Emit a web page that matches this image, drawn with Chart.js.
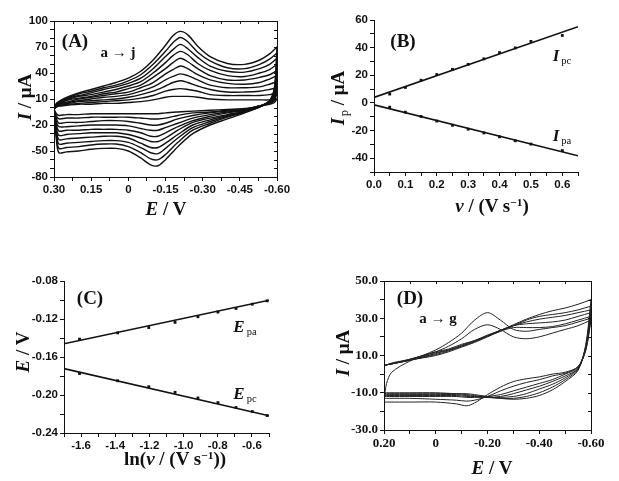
<!DOCTYPE html>
<html>
<head>
<meta charset="utf-8">
<script src="https://cdn.jsdelivr.net/npm/chart.js@4.4.1/dist/chart.umd.min.js"></script>
<style>
  body { margin: 0; background: #fff; }
  #page { position: relative; width: 619px; height: 481px; overflow: hidden; }
  canvas { position: absolute; left: 0; top: 0; }
  .lbl { position: absolute; font-family: "Liberation Serif", "Times New Roman", serif; font-weight: bold;
         color: #111; white-space: nowrap; line-height: 1; transform: translate(-50%, -50%); }
  .rot { transform: translate(-50%, -50%) rotate(-90deg); }
  .lbl sub { font-size: 62%; font-weight: normal; vertical-align: -0.3em; margin-left: 2px; }
  .lbl sup { font-size: 60%; vertical-align: 0.5em; }
</style>
</head>
<body>
<div id="page">
  <canvas id="cA" width="619" height="481"></canvas>
  <canvas id="cB" width="619" height="481"></canvas>
  <canvas id="cC" width="619" height="481"></canvas>
  <canvas id="cD" width="619" height="481"></canvas>

  <div class="lbl rot" style="left:24px;top:97px;font-size:19px"><i>I</i> / μA</div>
  <div class="lbl" style="left:166px;top:208px;font-size:19px"><i>E</i> / V</div>
  <div class="lbl" style="left:75px;top:40px;font-size:19px">(A)</div>
  <div class="lbl" style="left:118px;top:52px;font-size:15px">a → j</div>

  <div class="lbl rot" style="left:339px;top:98px;font-size:19px"><i>I</i><sub>p</sub> / μA</div>
  <div class="lbl" style="left:492px;top:205px;font-size:19px"><i>ν</i> / (V s<sup>−1</sup>)</div>
  <div class="lbl" style="left:403px;top:40px;font-size:19px">(B)</div>
  <div class="lbl" style="left:562px;top:57px;font-size:17px"><i>I</i><sub>pc</sub></div>
  <div class="lbl" style="left:562px;top:137px;font-size:17px"><i>I</i><sub>pa</sub></div>

  <div class="lbl rot" style="left:22px;top:352px;font-size:19px"><i>E</i> / V</div>
  <div class="lbl" style="left:175px;top:458px;font-size:19px">ln(<i>ν</i> / (V s<sup>−1</sup>))</div>
  <div class="lbl" style="left:90px;top:297px;font-size:19px">(C)</div>
  <div class="lbl" style="left:245px;top:328px;font-size:17px"><i>E</i><sub>pa</sub></div>
  <div class="lbl" style="left:245px;top:395px;font-size:17px"><i>E</i><sub>pc</sub></div>

  <div class="lbl rot" style="left:342px;top:353px;font-size:19px"><i>I</i> / μA</div>
  <div class="lbl" style="left:492px;top:467px;font-size:19px"><i>E</i> / V</div>
  <div class="lbl" style="left:410px;top:297px;font-size:19px">(D)</div>
  <div class="lbl" style="left:438px;top:318px;font-size:15px">a → g</div>
</div>
<script>
// ---------- (A) CVs at increasing scan rate, curves a -> j
const aUpE = [0.30, 0.29, 0.27, 0.24, 0.20, 0.15, 0.10, 0.05, 0.00, -0.05, -0.10, -0.15, -0.18, -0.21, -0.24, -0.28, -0.33, -0.40, -0.47, -0.53, -0.57, -0.60];
const aLowE = [-0.60, -0.59, -0.57, -0.53, -0.47, -0.40, -0.33, -0.26, -0.20, -0.15, -0.12, -0.09, -0.05, 0.00, 0.05, 0.10, 0.15, 0.20, 0.25, 0.28, 0.29, 0.30];
const aUp = [
  [-2, 1, 2, 3, 4, 4, 5, 5, 6, 7, 9, 12, 13, 13, 13, 12, 10, 9, 9, 9, 9, 10],
  [-2, 1, 3, 4, 5, 6, 7, 8, 9, 11, 14, 19, 21, 22, 21, 19, 15, 14, 14, 14, 15, 17],
  [-2, 2, 4, 5, 7, 8, 9, 10, 12, 15, 19, 25, 29, 31, 29, 25, 21, 18, 18, 19, 21, 23],
  [-2, 2, 4, 6, 8, 10, 12, 13, 15, 19, 24, 32, 36, 39, 37, 32, 26, 23, 23, 24, 27, 30],
  [-2, 3, 5, 7, 10, 12, 14, 16, 18, 23, 29, 39, 44, 48, 45, 38, 32, 28, 27, 29, 33, 37],
  [-2, 3, 6, 9, 11, 13, 16, 18, 22, 26, 35, 45, 52, 57, 53, 45, 37, 32, 32, 35, 38, 43],
  [-2, 4, 7, 10, 13, 15, 18, 21, 25, 30, 40, 52, 60, 65, 61, 51, 43, 37, 36, 40, 44, 50],
  [-2, 4, 7, 11, 14, 17, 21, 24, 28, 34, 45, 59, 67, 73, 68, 58, 48, 42, 41, 45, 50, 57],
  [-2, 5, 8, 12, 16, 19, 23, 26, 31, 38, 50, 65, 75, 81, 76, 64, 54, 46, 45, 50, 56, 63],
  [-2, 5, 9, 13, 17, 21, 25, 29, 34, 42, 55, 72, 83, 88, 84, 71, 59, 51, 50, 55, 62, 70]
];
const aLow = [
  [10, 6, 4, 2, -1, -2, -3, -4, -5, -6, -7, -7, -7, -7, -7, -7, -7, -8, -8, -9, -7, -2],
  [17, 8, 5, 2, -2, -3, -5, -6, -9, -12, -13, -13, -12, -11, -11, -11, -11, -12, -12, -13, -10, -2],
  [23, 10, 5, 2, -2, -4, -6, -9, -13, -18, -20, -20, -18, -16, -15, -15, -16, -17, -17, -18, -13, -2],
  [30, 12, 6, 2, -3, -5, -8, -12, -18, -23, -26, -26, -24, -21, -20, -20, -20, -21, -22, -22, -17, -2],
  [37, 14, 6, 2, -3, -6, -10, -15, -22, -29, -33, -33, -29, -26, -25, -25, -25, -26, -26, -27, -20, -2],
  [43, 16, 7, 1, -4, -8, -12, -17, -26, -35, -39, -39, -35, -31, -29, -29, -29, -30, -31, -32, -24, -2],
  [50, 18, 7, 1, -4, -9, -14, -20, -31, -41, -46, -46, -41, -35, -33, -33, -34, -35, -36, -37, -27, -2],
  [57, 20, 7, 1, -5, -10, -16, -23, -35, -47, -53, -52, -46, -40, -38, -38, -39, -40, -41, -42, -31, -2],
  [63, 22, 8, 1, -5, -11, -18, -26, -40, -54, -60, -59, -52, -45, -42, -42, -43, -45, -46, -47, -34, -2],
  [70, 24, 8, 1, -6, -13, -20, -30, -45, -60, -67, -66, -58, -50, -47, -47, -48, -50, -51, -52, -38, -2]
];
const aXMajor = [0.30, 0.15, 0, -0.15, -0.30, -0.45, -0.60];
const aXMinor = [0.225, 0.075, -0.075, -0.225, -0.375, -0.525];
const aYMajor = [100, 70, 40, 10, -20, -50, -80];
const aYMinor = [90, 80, 60, 50, 30, 20, 0, -10, -30, -40, -60, -70];

// ---------- (B) peak current vs scan rate
const bV = [0.05, 0.10, 0.15, 0.20, 0.25, 0.30, 0.35, 0.40, 0.45, 0.50, 0.60];
const bIpc = [6.4, 11.2, 16.4, 20.5, 24.3, 27.9, 31.9, 36.4, 39.8, 44.5, 48.8];
const bIpa = [-3.1, -6.7, -9.8, -13.1, -16.2, -19.0, -21.7, -24.5, -27.4, -29.8, -34.5];
const bFitV = [0, 0.65];
const bFitPc = [4.0, 55.2];
const bFitPa = [-1.4, -38.3];
const bXMajor = [0, 0.1, 0.2, 0.3, 0.4, 0.5, 0.6];
const bXMinor = [0.05, 0.15, 0.25, 0.35, 0.45, 0.55, 0.65];
const bYMajor = [60, 40, 20, 0, -20, -40];
const bYMinor = [50, 30, 10, -10, -30, -50];

// ---------- (C) peak potential vs ln(scan rate)
const cLnV = [-1.609, -1.386, -1.204, -1.050, -0.916, -0.799, -0.693, -0.598, -0.511];
const cEpa = [-0.1412, -0.1346, -0.1290, -0.1235, -0.1176, -0.1127, -0.1089, -0.1044, -0.1009];
const cEpc = [-0.1774, -0.1850, -0.1913, -0.1972, -0.2031, -0.2080, -0.2132, -0.2174, -0.2216];
const cFitX = [-1.7, -0.5];
const cFitPa = [-0.1461, -0.1002];
const cFitPc = [-0.1722, -0.2219];
const cXMajor = [-1.6, -1.4, -1.2, -1.0, -0.8, -0.6];
const cXMinor = [-1.7, -1.5, -1.3, -1.1, -0.9, -0.7, -0.5];
const cYMajor = [-0.24, -0.20, -0.16, -0.12, -0.08];
const cYMinor = [-0.22, -0.18, -0.14, -0.10];

// ---------- (D) CVs a -> g
const dUpE = [0.20, 0.19, 0.17, 0.10, 0.00, -0.05, -0.10, -0.15, -0.20, -0.25, -0.30, -0.35, -0.40, -0.45, -0.50, -0.55, -0.60];
const dLowE = [-0.60, -0.58, -0.55, -0.50, -0.45, -0.40, -0.35, -0.30, -0.25, -0.20, -0.15, -0.12, -0.08, 0.00, 0.10, 0.18, 0.20];
const dUp = [
  [-14, -5, 1, 7, 13, 17, 22, 29, 33, 29, 24, 23, 24, 25, 26, 28, 30],
  [4.5, 5, 6, 8, 12, 15, 19, 24, 26.5, 24, 20, 19, 20, 22, 24, 26, 29],
  [4.5, 5, 5.5, 7.5, 10, 12, 14.5, 17, 20, 23, 25, 25, 25, 25.5, 27, 29, 31],
  [4.5, 5, 5.5, 7.5, 10.5, 12.5, 15, 17.5, 20.5, 23, 26, 27, 27.5, 28, 29, 31, 33],
  [4.5, 5, 5.5, 7.5, 11, 13, 15, 17.5, 20.5, 23.5, 26, 28, 29.5, 30.5, 31.5, 33, 34.5],
  [4.5, 5, 5.5, 7.5, 11.5, 13, 15.5, 18, 20.5, 23.5, 26, 29, 31, 32, 33, 34.5, 36.5],
  [4.5, 5, 5.5, 8, 12, 13.5, 16, 18, 21, 23.5, 26.5, 29.5, 32, 34, 35.5, 37.5, 40]
];
const dLow = [
  [30, 13, 4, 1, 0, -1.5, -2.5, -4, -7, -11, -15.5, -17, -16, -15, -15, -15, -15],
  [29, 13, 4, 0.5, -1, -3, -4.5, -6.5, -9, -12, -14, -14.5, -14, -13.5, -13, -13, -13],
  [31, 14, 3.5, 0, -3, -5, -7, -9, -11, -12, -12.5, -12.5, -12, -12, -12, -12, -12],
  [33, 14, 3, -1, -4, -6.5, -8.5, -10.5, -12, -12.5, -12, -12, -11.5, -11.5, -11.5, -11.5, -11.5],
  [34.5, 15, 3, -2, -5.5, -8, -10.5, -12, -12.5, -12.5, -12, -11.5, -11, -11, -11, -11, -11],
  [36.5, 15, 2.5, -3, -7, -10, -12, -13, -13, -12.5, -11.5, -11, -10.5, -10.5, -10.5, -10.5, -10.5],
  [40, 16, 2, -4, -8.5, -11.5, -13, -13.5, -13, -12, -11, -10.5, -10.5, -10, -10, -10, -10]
];
const dXMajor = [0.20, 0, -0.20, -0.40, -0.60];
const dXMinor = [0.10, -0.10, -0.30, -0.50];
const dYMajor = [50, 30, 10, -10, -30];
const dYMinor = [40, 20, 0, -20];

const PAGE_W = 619, PAGE_H = 481;
const sansTick = { family: "'Liberation Sans', Arial, sans-serif", size: 11.5, weight: 'bold' };
const serifTick = { family: "'Liberation Serif', 'Times New Roman', serif", size: 13, weight: 'bold' };

function pts(xs, ys) {
  return xs.map((x, i) => ({ x: x, y: ys[i] }));
}

function isIn(list, v) {
  return list.some(m => Math.abs(m - v) < 1e-9);
}

// frame round the plot area, with small inward ticks on top and right
const framePlugin = {
  id: 'frame',
  afterDraw(chart, args, opts) {
    if (!opts.on) return;
    const { ctx, chartArea: a, scales } = chart;
    ctx.save();
    ctx.strokeStyle = '#111';
    ctx.lineWidth = 1;
    ctx.strokeRect(a.left + 0.5, a.top + 0.5, a.width, a.height);
    ctx.beginPath();
    scales.x.ticks.forEach(t => {
      const px = Math.round(scales.x.getPixelForValue(t.value)) + 0.5;
      ctx.moveTo(px, a.top); ctx.lineTo(px, a.top + 3);
    });
    scales.y.ticks.forEach(t => {
      const py = Math.round(scales.y.getPixelForValue(t.value)) + 0.5;
      ctx.moveTo(a.right, py); ctx.lineTo(a.right - 3, py);
    });
    ctx.stroke();
    ctx.restore();
  }
};

function axis(min, max, major, minor, fmt, font, horizontal, size, reverse) {
  return {
    type: 'linear',
    min: min, max: max, reverse: !!reverse,
    afterBuildTicks(scale) {
      scale.ticks = major.concat(minor).sort((p, q) => p - q).map(v => ({ value: v }));
    },
    afterFit(scale) {
      if (horizontal) scale.height = size; else scale.width = size;
      scale.paddingLeft = 0; scale.paddingRight = 0;
      scale.paddingTop = 0; scale.paddingBottom = 0;
    },
    ticks: {
      autoSkip: false, maxRotation: 0, minRotation: 0, padding: 2,
      color: '#111', font: font,
      callback: v => isIn(major, v) ? fmt(v) : ''
    },
    grid: { drawOnChartArea: false, drawTicks: true, tickLength: 4, color: '#111', tickColor: '#111' },
    border: { display: true, color: '#111', width: 1 }
  };
}

function makePanel(id, box, xAxis, yAxis, datasets, frame) {
  const yw = 44, xh = 24;
  return new Chart(document.getElementById(id), {
    type: 'scatter',
    data: { datasets: datasets },
    options: {
      responsive: false, animation: false, events: [],
      layout: { padding: { left: box.l - yw, right: PAGE_W - box.r, top: box.t, bottom: PAGE_H - box.b - xh } },
      plugins: { legend: { display: false }, tooltip: { enabled: false }, frame: { on: frame } },
      scales: { x: xAxis, y: yAxis }
    },
    plugins: [framePlugin]
  });
}

function cvSet(upE, up, lowE, low, width, color) {
  return up.map((u, k) => ({
    data: pts(upE, u).concat(pts(lowE, low[k])),
    showLine: true, fill: false, tension: 0.3,
    borderColor: color, borderWidth: width, pointRadius: 0
  }));
}

function markSet(xs, ys) {
  return { data: pts(xs, ys), showLine: false, pointStyle: 'rect', pointRadius: 2,
           backgroundColor: '#111', borderColor: '#111', borderWidth: 0 };
}

function fitSet(xs, ys) {
  return { data: pts(xs, ys), showLine: true, tension: 0, pointRadius: 0,
           borderColor: '#111', borderWidth: 1.6 };
}

const fmtZero2 = v => Math.abs(v) < 1e-9 ? '0' : v.toFixed(2);

makePanel('cA', { l: 54, r: 277, t: 21, b: 177 },
  axis(-0.6, 0.3, aXMajor, aXMinor, fmtZero2, sansTick, true, 24, true),
  axis(-80, 100, aYMajor, aYMinor, v => String(v), sansTick, false, 44),
  cvSet(aUpE, aUp, aLowE, aLow, 1.4, '#111'), true);

makePanel('cB', { l: 374, r: 578, t: 20, b: 172 },
  axis(0, 0.65, bXMajor, bXMinor, v => v.toFixed(1), sansTick, true, 24),
  axis(-50, 60, bYMajor, bYMinor, v => String(Math.round(v)), sansTick, false, 44),
  [markSet(bV, bIpc), markSet(bV, bIpa), fitSet(bFitV, bFitPc), fitSet(bFitV, bFitPa)], false);

makePanel('cC', { l: 64, r: 269, t: 281, b: 433 },
  axis(-1.7, -0.5, cXMajor, cXMinor, v => v.toFixed(1), sansTick, true, 24),
  axis(-0.24, -0.08, cYMajor, cYMinor, v => v.toFixed(2), sansTick, false, 44),
  [markSet(cLnV, cEpa), markSet(cLnV, cEpc), fitSet(cFitX, cFitPa), fitSet(cFitX, cFitPc)], false);

makePanel('cD', { l: 384, r: 591, t: 281, b: 430 },
  axis(-0.6, 0.2, dXMajor, dXMinor, fmtZero2, serifTick, true, 24, true),
  axis(-30, 50, dYMajor, dYMinor, v => v.toFixed(1), serifTick, false, 44),
  cvSet(dUpE, dUp, dLowE, dLow, 1, '#222'), true);
</script>
</body>
</html>
